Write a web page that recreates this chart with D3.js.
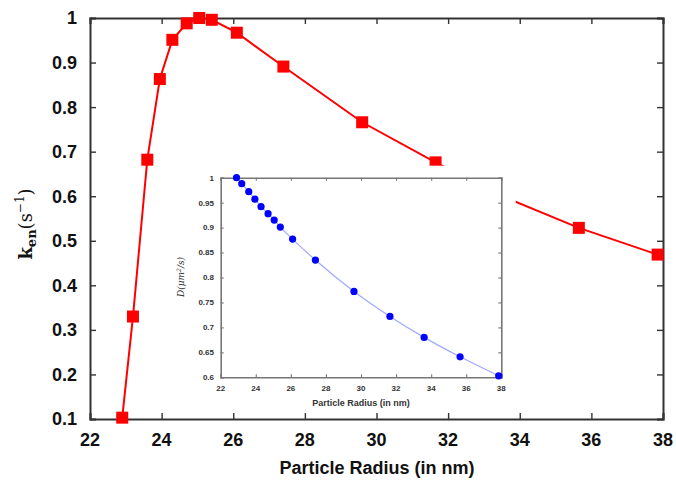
<!DOCTYPE html>
<html><head><meta charset="utf-8">
<script src="https://cdn.jsdelivr.net/npm/d3@7/dist/d3.min.js"></script>
<style>body{margin:0;background:#fff}svg{display:block}</style>
</head><body>
<svg id="c" width="676" height="480"></svg>
<script>
const radius = [22.9, 23.2, 23.6, 23.95, 24.3, 24.7, 25.05, 25.4, 26.1, 27.4, 29.6, 31.65, 33.6, 35.65, 37.85];
const ken = [0.103, 0.33, 0.682, 0.863, 0.951, 0.988, 1.0, 0.996, 0.967, 0.891, 0.766, 0.676, 0.597, 0.529, 0.469];
const diff = [1.0, 0.988, 0.972, 0.957, 0.942, 0.928, 0.915, 0.901, 0.877, 0.835, 0.772, 0.722, 0.680, 0.641, 0.603];
const xTicks = [22, 24, 26, 28, 30, 32, 34, 36, 38];
const yTicks = [0.1, 0.2, 0.3, 0.4, 0.5, 0.6, 0.7, 0.8, 0.9, 1];
const inYTicks = [0.6, 0.65, 0.7, 0.75, 0.8, 0.85, 0.9, 0.95, 1];

const svg = d3.select("#c");
const M = {l: 90, t: 18, r: 663, b: 419};
const x = d3.scaleLinear().domain([22, 38]).range([M.l, M.r]);
const y = d3.scaleLinear().domain([0.1, 1]).range([M.b, M.t]);

const fmt = d => String(+d.toFixed(2));
const axisCol = "#333";
function frame(g, xs, ys, xt, yt, len, col, w) {
  const [x0, x1] = xs.range(), [y0, y1] = ys.range();
  g.append("g").attr("transform", `translate(0,${y0})`).call(d3.axisBottom(xs).tickValues(xt).tickSize(-len).tickFormat(""));
  g.append("g").attr("transform", `translate(0,${y1})`).call(d3.axisTop(xs).tickValues(xt).tickSize(-len).tickFormat(""));
  g.append("g").attr("transform", `translate(${x0},0)`).call(d3.axisLeft(ys).tickValues(yt).tickSize(-len).tickFormat(""));
  g.append("g").attr("transform", `translate(${x1},0)`).call(d3.axisRight(ys).tickValues(yt).tickSize(-len).tickFormat(""));
  g.selectAll(".domain").attr("stroke", col).attr("stroke-width", w);
  g.selectAll(".tick line").attr("stroke", col).attr("stroke-width", w * 0.7);
}

// main axes
const gm = svg.append("g");
frame(gm, x, y, xTicks, yTicks, 6, axisCol, 2);
gm.append("g").selectAll("text").data(yTicks).join("text")
  .attr("x", 77).attr("y", d => y(d)).attr("dy", "0.36em").attr("text-anchor", "end")
  .attr("font-family", "Liberation Sans, Arial, sans-serif").attr("font-weight", "bold").attr("font-size", 18).attr("fill", "#111")
  .text(fmt);
gm.append("g").selectAll("text").data(xTicks).join("text")
  .attr("x", d => x(d)).attr("y", 446).attr("text-anchor", "middle")
  .attr("font-family", "Liberation Sans, Arial, sans-serif").attr("font-weight", "bold").attr("font-size", 18).attr("fill", "#111")
  .text(d => d);
svg.append("text").attr("x", 377).attr("y", 474).attr("text-anchor", "middle")
  .attr("font-family", "Liberation Sans, Arial, sans-serif").attr("font-weight", "bold").attr("font-size", 18).attr("fill", "#111")
  .text("Particle Radius (in nm)");
const yl = svg.append("text").attr("transform", "translate(32,224) rotate(-90)").attr("text-anchor", "middle")
  .attr("font-family", "DejaVu Serif, serif").attr("font-size", 18).attr("fill", "#111");
yl.append("tspan").attr("font-weight", "bold").text("k");
yl.append("tspan").attr("font-weight", "bold").attr("font-size", 13).attr("dy", 4).text("en");
yl.append("tspan").attr("dy", -4).text("(s");
yl.append("tspan").attr("font-size", 12).attr("dy", -8).text("\u22121");
yl.append("tspan").attr("dy", 8).text(")");

// main series
const pts = radius.map((r, i) => [r, ken[i]]);
svg.append("path").datum(pts)
  .attr("d", d3.line().x(d => x(d[0])).y(d => y(d[1])))
  .attr("fill", "none").attr("stroke", "#ff0000").attr("stroke-width", 2);
svg.append("g").selectAll("rect").data(pts).join("rect")
  .attr("x", d => x(d[0]) - 6).attr("y", d => y(d[1]) - 6).attr("width", 12).attr("height", 12)
  .attr("fill", "#ff0000");

// inset
const I = {l: 220.7, t: 177.7, r: 501.3, b: 377.3};
svg.append("rect").attr("x", 168).attr("y", 165.7).attr("width", 515.7 - 168).attr("height", 246).attr("fill", "#fff");
const xi = d3.scaleLinear().domain([22, 38]).range([I.l, I.r]);
const yi = d3.scaleLinear().domain([0.6, 1]).range([I.b, I.t]);
const gi = svg.append("g");
frame(gi, xi, yi, xTicks, inYTicks, 3, "#777", 1.6);
gi.append("g").selectAll("text").data(inYTicks).join("text")
  .attr("x", 214).attr("y", d => yi(d)).attr("dy", "0.36em").attr("text-anchor", "end")
  .attr("font-family", "Liberation Sans, Arial, sans-serif").attr("font-weight", "bold").attr("font-size", 8).attr("fill", "#333")
  .text(fmt);
gi.append("g").selectAll("text").data(xTicks).join("text")
  .attr("x", d => xi(d)).attr("y", 390.5).attr("text-anchor", "middle")
  .attr("font-family", "Liberation Sans, Arial, sans-serif").attr("font-weight", "bold").attr("font-size", 8).attr("fill", "#333")
  .text(d => d);
svg.append("text").attr("x", 361).attr("y", 405.5).attr("text-anchor", "middle")
  .attr("font-family", "Liberation Sans, Arial, sans-serif").attr("font-weight", "bold").attr("font-size", 9).attr("fill", "#333")
  .text("Particle Radius (in nm)");
const il = svg.append("text").attr("transform", "translate(184,277) rotate(-90)").attr("text-anchor", "middle")
  .attr("font-family", "DejaVu Serif, serif").attr("font-style", "italic").attr("font-size", 9).attr("fill", "#333");
il.append("tspan").text("D(\u03bcm");
il.append("tspan").attr("font-size", 6).attr("dy", -3).text("2");
il.append("tspan").attr("dy", 3).text("/s)");

const ipts = radius.map((r, i) => [r, diff[i]]);
svg.append("path").datum(ipts)
  .attr("d", d3.line().curve(d3.curveMonotoneX).x(d => xi(d[0])).y(d => yi(d[1])))
  .attr("fill", "none").attr("stroke", "#a0a8ff").attr("stroke-width", 1.2);
svg.append("g").selectAll("circle").data(ipts).join("circle")
  .attr("cx", d => xi(d[0])).attr("cy", d => yi(d[1])).attr("r", 3.6).attr("fill", "#0000ff");
</script>
</body></html>
